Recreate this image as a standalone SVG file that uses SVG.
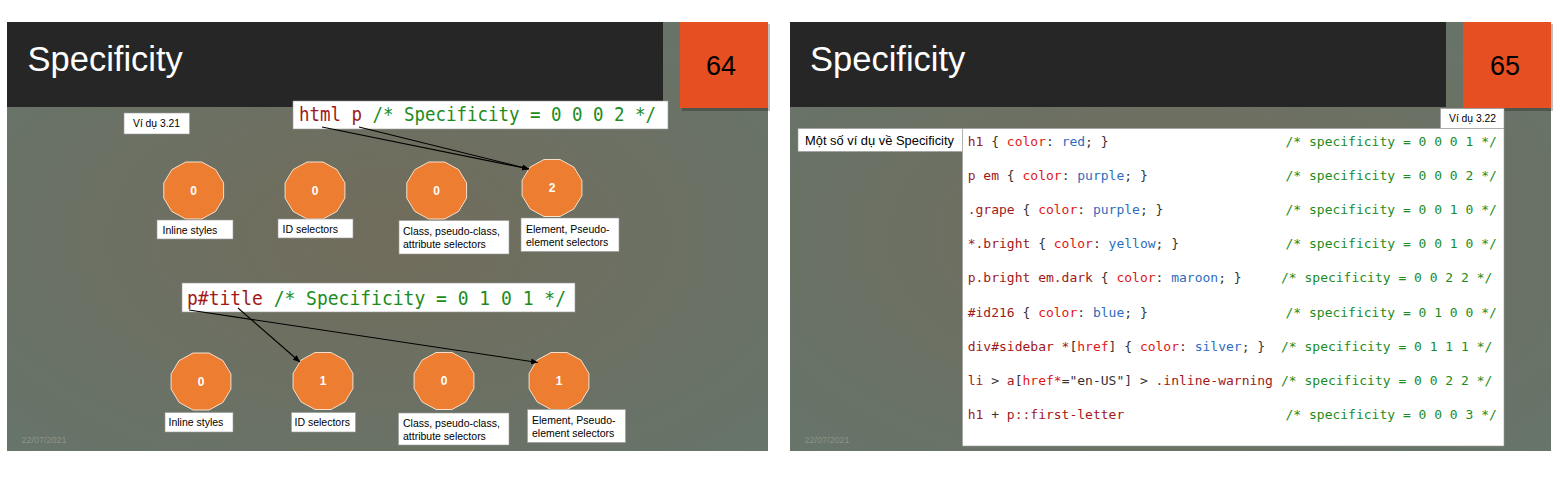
<svg xmlns="http://www.w3.org/2000/svg" width="1568" height="480" viewBox="0 0 1568 480">
<defs>
<radialGradient id="bg" cx="0.5" cy="0.5" r="0.75">
<stop offset="0" stop-color="#716c5b"/>
<stop offset="1" stop-color="#66756b"/>
</radialGradient>
<polygon id="dodec" class="oct" points="29.9,-7.6 29.9,7.6 21.9,20.9 8,28.5 -8,28.5 -21.9,20.9 -29.9,7.6 -29.9,-7.6 -21.9,-20.9 -8,-28.5 8,-28.5 21.9,-20.9"/>
<marker id="ah" markerWidth="8" markerHeight="8" refX="7" refY="4" orient="auto" markerUnits="userSpaceOnUse">
<path d="M0,1 L7,4 L0,7 Z" fill="#000"/>
</marker>
</defs>
<style>
.bgslide{fill:url(#bg)}
.hdr{fill:#262626}
.num{fill:#e64f22}
.shadow{fill:#000;opacity:0.25}
.title{font-family:"Liberation Sans",Arial,sans-serif;font-size:34.5px;fill:#fff}
.pg{font-family:"Liberation Sans",Arial,sans-serif;font-size:27px;fill:#000;text-anchor:middle}
.date{font-family:"Liberation Sans",Arial,sans-serif;font-size:9px;fill:#8e9285}
.box{fill:#fff;stroke:#9a9a9a;stroke-width:0.6}
.lbl{font-family:"Liberation Sans",Arial,sans-serif;font-size:10.5px;fill:#000}
.small{font-family:"Liberation Sans",Arial,sans-serif;font-size:10px;fill:#000}
.oct{fill:#ed7d31;stroke:#f6e0cc;stroke-width:1}
.n{font-family:"Liberation Sans",Arial,sans-serif;font-size:12px;font-weight:bold;fill:#fff;text-anchor:middle}
.code{font-family:"DejaVu Sans Mono","Liberation Mono",monospace;white-space:pre}
.s{fill:#a01818}
.p{fill:#e01616}
.v{fill:#2e6cbd}
.k{fill:#333}
.c{fill:#1c8c1c}
.con{stroke:#000;stroke-width:1.1;fill:none}
</style>

<!-- Slide 64 -->
<g id="slide64">
<rect class="bgslide" x="7" y="22" width="761" height="429"/>
<rect class="hdr" x="7" y="22" width="656" height="85"/>
<rect class="shadow" x="682" y="24" width="88" height="87"/>
<rect class="num" x="680" y="22" width="88" height="86"/>
<text class="title" x="27.5" y="71">Specificity</text>
<text class="pg" x="721" y="75">64</text>
<text class="date" x="21.5" y="443">22/07/2021</text>
</g>

<g id="ex321">
<rect class="box" x="124" y="113" width="65.5" height="21"/>
<text class="small" x="133" y="127" textLength="47" lengthAdjust="spacingAndGlyphs">Ví dụ 3.21</text>
</g>

<g id="code1">
<rect class="box" x="293" y="101" width="375" height="28"/>
<text class="code" x="299" y="121" font-size="19" textLength="357" lengthAdjust="spacingAndGlyphs" xml:space="preserve"><tspan class="s">html p</tspan><tspan class="c"> /* Specificity = 0 0 0 2 */</tspan></text>
</g>

<g id="row1">
<g id="r1-inline"><use href="#dodec" x="193.7" y="190.5"/><text class="n" x="193.7" y="194.5">0</text>
<rect class="box" x="157" y="220" width="76" height="19"/><text class="lbl" x="162.5" y="233.5">Inline styles</text></g>
<g id="r1-id"><use href="#dodec" x="315" y="190.5"/><text class="n" x="315" y="194.5">0</text>
<rect class="box" x="278" y="219" width="75" height="19"/><text class="lbl" x="282.5" y="232.5">ID selectors</text></g>
<g id="r1-class"><use href="#dodec" x="436.7" y="190.5"/><text class="n" x="436.7" y="194.5">0</text>
<rect class="box" x="399" y="220.5" width="110" height="33.5"/><text class="lbl" x="403" y="235">Class, pseudo-class,</text><text class="lbl" x="403" y="248">attribute selectors</text></g>
<g id="r1-elem"><use href="#dodec" x="552" y="188"/><text class="n" x="552" y="192">2</text>
<rect class="box" x="521" y="218" width="98" height="33.5"/><text class="lbl" x="526" y="233">Element, Pseudo-</text><text class="lbl" x="526" y="246">element selectors</text></g>
</g>

<g id="code2">
<rect class="box" x="182" y="283" width="393" height="29"/>
<text class="code" x="187" y="305" font-size="19.5" textLength="379" lengthAdjust="spacingAndGlyphs" xml:space="preserve"><tspan class="s">p#title</tspan><tspan class="c"> /* Specificity = 0 1 0 1 */</tspan></text>
</g>

<g id="row2">
<g id="r2-inline"><use href="#dodec" x="201" y="381.5"/><text class="n" x="201" y="385.5">0</text>
<rect class="box" x="165" y="412.5" width="68" height="19.5"/><text class="lbl" x="168.5" y="426">Inline styles</text></g>
<g id="r2-id"><use href="#dodec" x="323" y="381"/><text class="n" x="323" y="385">1</text>
<rect class="box" x="291.5" y="412.5" width="64" height="19.5"/><text class="lbl" x="294.5" y="426">ID selectors</text></g>
<g id="r2-class"><use href="#dodec" x="444" y="381"/><text class="n" x="444" y="385">0</text>
<rect class="box" x="398.5" y="413" width="110.5" height="32"/><text class="lbl" x="403" y="427">Class, pseudo-class,</text><text class="lbl" x="403" y="440">attribute selectors</text></g>
<g id="r2-elem"><use href="#dodec" x="559" y="381"/><text class="n" x="559" y="385">1</text>
<rect class="box" x="527.5" y="409.5" width="98" height="33"/><text class="lbl" x="532" y="424">Element, Pseudo-</text><text class="lbl" x="532" y="437">element selectors</text></g>
</g>

<g id="connectors">
<line class="con" x1="322" y1="127" x2="529" y2="169" marker-end="url(#ah)"/>
<line class="con" x1="359" y1="127" x2="529" y2="169" marker-end="url(#ah)"/>
<line class="con" x1="238" y1="308" x2="300" y2="362" marker-end="url(#ah)"/>
<line class="con" x1="189" y1="310" x2="538" y2="362.5" marker-end="url(#ah)"/>
</g>

<!-- Slide 65 -->
<g id="slide65">
<rect class="bgslide" x="790" y="22" width="761" height="429"/>
<rect class="hdr" x="790" y="22" width="656" height="85"/>
<rect class="shadow" x="1465" y="24" width="88" height="87"/>
<rect class="num" x="1463" y="22" width="88" height="86"/>
<text class="title" x="810" y="71">Specificity</text>
<text class="pg" x="1505" y="75">65</text>
<text class="date" x="804.5" y="443">22/07/2021</text>
</g>

<g id="ex322">
<rect class="box" x="1440.5" y="108.5" width="63.5" height="20"/>
<text class="small" x="1449" y="122" textLength="47" lengthAdjust="spacingAndGlyphs">Ví dụ 3.22</text>
</g>

<g id="caption">
<rect class="box" x="798" y="128.5" width="164.5" height="23"/>
<text class="lbl" x="805" y="145" textLength="149" lengthAdjust="spacingAndGlyphs" style="font-size:13px">Một số ví dụ về Specificity</text>
</g>

<g id="codebox">
<rect class="box" x="962.5" y="128.5" width="541.5" height="317.5"/>
<g class="code" font-size="13">
<text x="967.7" y="146" xml:space="preserve"><tspan class="s">h1</tspan><tspan class="k"> { </tspan><tspan class="p">color</tspan><tspan class="k">: </tspan><tspan class="v">red</tspan><tspan class="k">; }</tspan></text>
<text class="c" x="1285.5" y="146" xml:space="preserve">/* specificity = 0 0 0 1 */</text>
<text x="967.7" y="180.1" xml:space="preserve"><tspan class="s">p em</tspan><tspan class="k"> { </tspan><tspan class="p">color</tspan><tspan class="k">: </tspan><tspan class="v">purple</tspan><tspan class="k">; }</tspan></text>
<text class="c" x="1285.5" y="180.1" xml:space="preserve">/* specificity = 0 0 0 2 */</text>
<text x="967.7" y="214.2" xml:space="preserve"><tspan class="s">.grape</tspan><tspan class="k"> { </tspan><tspan class="p">color</tspan><tspan class="k">: </tspan><tspan class="v">purple</tspan><tspan class="k">; }</tspan></text>
<text class="c" x="1285.5" y="214.2" xml:space="preserve">/* specificity = 0 0 1 0 */</text>
<text x="967.7" y="248.3" xml:space="preserve"><tspan class="s">*.bright</tspan><tspan class="k"> { </tspan><tspan class="p">color</tspan><tspan class="k">: </tspan><tspan class="v">yellow</tspan><tspan class="k">; }</tspan></text>
<text class="c" x="1285.5" y="248.3" xml:space="preserve">/* specificity = 0 0 1 0 */</text>
<text x="967.7" y="282.4" xml:space="preserve"><tspan class="s">p.bright em.dark</tspan><tspan class="k"> { </tspan><tspan class="p">color</tspan><tspan class="k">: </tspan><tspan class="v">maroon</tspan><tspan class="k">; }</tspan></text>
<text class="c" x="1281" y="282.4" xml:space="preserve">/* specificity = 0 0 2 2 */</text>
<text x="967.7" y="316.5" xml:space="preserve"><tspan class="s">#id216</tspan><tspan class="k"> { </tspan><tspan class="p">color</tspan><tspan class="k">: </tspan><tspan class="v">blue</tspan><tspan class="k">; }</tspan></text>
<text class="c" x="1285.5" y="316.5" xml:space="preserve">/* specificity = 0 1 0 0 */</text>
<text x="967.7" y="350.6" xml:space="preserve"><tspan class="s">div#sidebar *</tspan><tspan class="k">[</tspan><tspan class="p">href</tspan><tspan class="k">] { </tspan><tspan class="p">color</tspan><tspan class="k">: </tspan><tspan class="v">silver</tspan><tspan class="k">; }</tspan></text>
<text class="c" x="1281" y="350.6" xml:space="preserve">/* specificity = 0 1 1 1 */</text>
<text x="967.7" y="384.7" xml:space="preserve"><tspan class="s">li</tspan><tspan class="k"> &gt; </tspan><tspan class="s">a</tspan><tspan class="k">[</tspan><tspan class="p">href*</tspan><tspan class="k">="en-US"] &gt; </tspan><tspan class="s">.inline-warning</tspan></text>
<text class="c" x="1281" y="384.7" xml:space="preserve">/* specificity = 0 0 2 2 */</text>
<text x="967.7" y="418.8" xml:space="preserve"><tspan class="s">h1</tspan><tspan class="k"> + </tspan><tspan class="s">p::first-letter</tspan></text>
<text class="c" x="1285.5" y="418.8" xml:space="preserve">/* specificity = 0 0 0 3 */</text>
</g>
</g>
</svg>
